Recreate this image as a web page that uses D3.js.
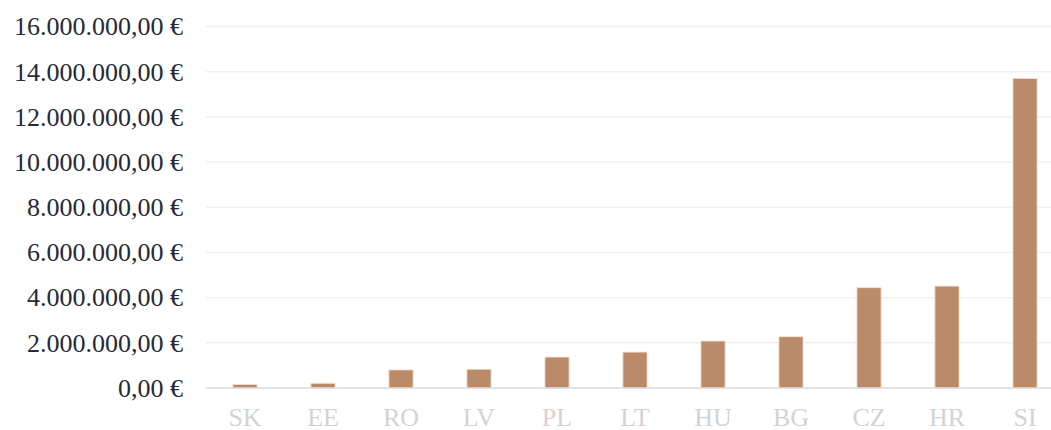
<!DOCTYPE html>
<html>
<head>
<meta charset="utf-8">
<script src="https://cdn.jsdelivr.net/npm/d3@7"></script>
<style>
  body { margin: 0; background: #fff; }
  text { font-family: "Liberation Serif", "Times New Roman", serif; }
</style>
</head>
<body>
<div class="canva"></div>
<script>
// data
const countries = ["SK", "EE", "RO", "LV", "PL", "LT", "HU", "BG", "CZ", "HR", "SI"];
const amounts = [160000, 210000, 800000, 830000, 1370000, 1590000, 2080000, 2270000, 4440000, 4510000, 13700000];
const yTicks = [0, 2000000, 4000000, 6000000, 8000000, 10000000, 12000000, 14000000, 16000000];

const width = 1051;
const height = 430;

const svg = d3.select(".canva").append("svg")
    .attr("width", width)
    .attr("height", height);

const locale = d3.formatLocale({
    decimal: ",",
    thousands: ".",
    grouping: [3],
    currency: ["", " €"]
});
const fmt = locale.format("$,.2f");

const x = d3.scaleBand()
    .domain(countries)
    .range([206, 1064])
    .paddingInner(0.69)
    .paddingOuter(0.345);

const y = d3.scaleLinear()
    .domain([0, 16000000])
    .range([388, 26.5]);

// gridlines
svg.append("g")
    .selectAll("line")
    .data(yTicks.filter(d => d > 0))
    .enter().append("line")
    .attr("x1", 206)
    .attr("x2", width)
    .attr("y1", d => y(d))
    .attr("y2", d => y(d))
    .style("stroke", "#f1f1ec")
    .style("stroke-width", 1.5);

// y axis labels
const yAxis = svg.append("g")
    .attr("transform", "translate(206,0)")
    .call(d3.axisLeft(y).tickValues(yTicks).tickFormat(fmt).tickSize(0).tickPadding(23));
yAxis.select(".domain").remove();
yAxis.selectAll("text")
    .style("font-size", "26px")
    .style("fill", "#262a35");

// bars
svg.append("g")
    .selectAll("rect")
    .data(countries)
    .enter().append("rect")
    .attr("x", d => x(d))
    .attr("width", x.bandwidth())
    .attr("y", (d, i) => y(amounts[i]))
    .attr("height", (d, i) => y(0) - y(amounts[i]))
    .style("fill", "#bb8b69")
    .style("stroke", "#f3e2d6")
    .style("stroke-width", 0.8);

// baseline
svg.append("line")
    .attr("x1", 206)
    .attr("x2", width)
    .attr("y1", y(0))
    .attr("y2", y(0))
    .style("stroke", "#d9d9d9")
    .style("stroke-width", 1.5);

// x axis labels
const xAxis = svg.append("g")
    .attr("transform", "translate(0," + y(0) + ")")
    .call(d3.axisBottom(x).tickSize(0).tickPadding(20));
xAxis.select(".domain").remove();
xAxis.selectAll("text")
    .style("font-size", "26px")
    .style("fill", "#d3d3d3");
</script>
</body>
</html>
